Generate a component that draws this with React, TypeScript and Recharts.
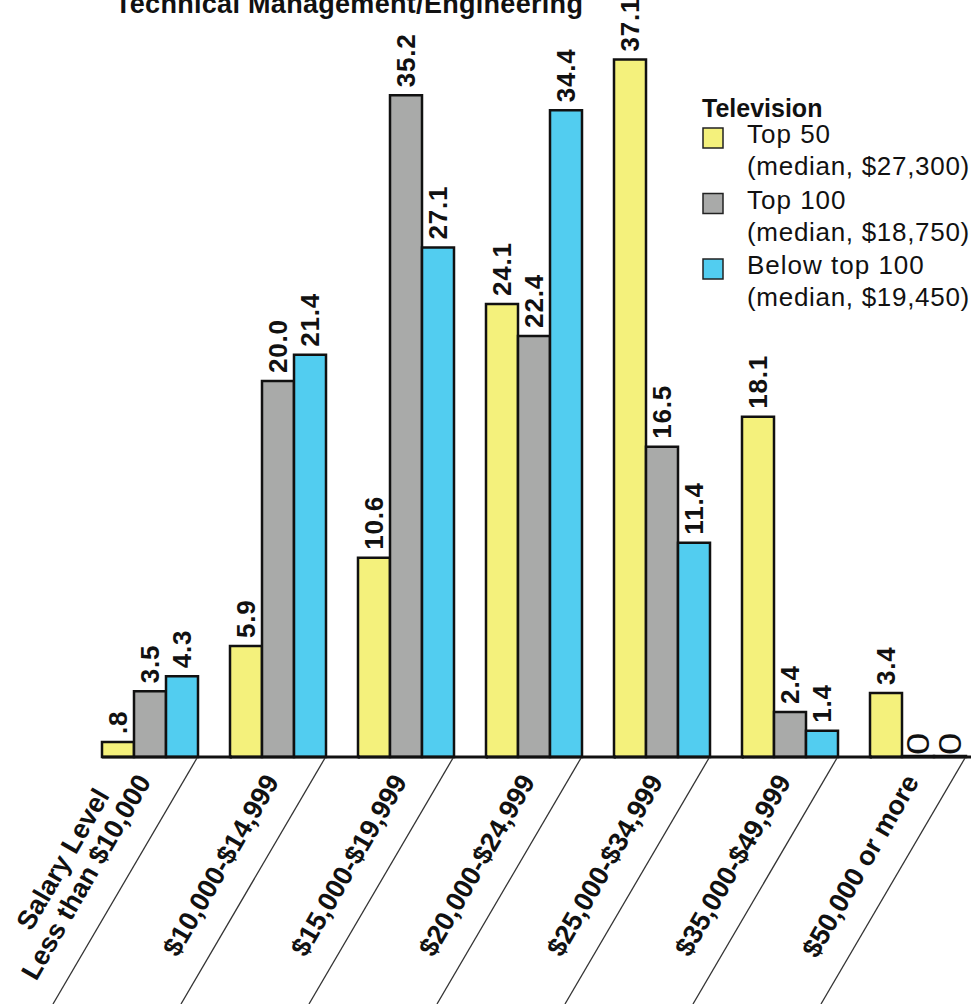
import React from "react";
import { BarChart, Bar, XAxis, YAxis, LabelList, Legend, Customized } from "recharts";

const categories = [
  "Less than $10,000",
  "$10,000-$14,999",
  "$15,000-$19,999",
  "$20,000-$24,999",
  "$25,000-$34,999",
  "$35,000-$49,999",
  "$50,000 or more",
];
const top50 = [0.8, 5.9, 10.6, 24.1, 37.1, 18.1, 3.4];
const top100 = [3.5, 20.0, 35.2, 22.4, 16.5, 2.4, 0];
const belowTop100 = [4.3, 21.4, 27.1, 34.4, 11.4, 1.4, 0];

const seriesKeys = ["top50", "top100", "below100"];
const seriesNames = ["Top 50", "Top 100", "Below top 100"];
const seriesMedians = ["(median, $27,300)", "(median, $18,750)", "(median, $19,450)"];
const seriesColors = ["#f4f17c", "#a9aaa9", "#52cdf0"];

const chartTitle = "Technical Management/Engineering";
const legendTitle = "Television";
const axisTitle = "Salary Level";

const data = categories.map((c, i) => ({
  cat: c,
  top50: top50[i],
  top100: top100[i],
  below100: belowTop100[i],
}));

const FONT = "'Liberation Sans', Arial, Helvetica, sans-serif";

const fmt = (v: number) => {
  if (v === 0) return "0";
  if (v < 1) return String(v).replace(/^0/, "");
  return v.toFixed(1);
};

const ValueLabel = (props: any) => {
  const { x, y, width, value } = props;
  const cx = Number(x) + Number(width) / 2;
  const v = Number(value);
  if (v === 0) {
    return (
      <text
        transform={`translate(${cx},${Number(y) - 1}) rotate(-90) scale(1.3,1)`}
        textAnchor="start"
        dominantBaseline="central"
        fontFamily={FONT}
        fontSize={31}
        fill="#111"
      >
        {fmt(v)}
      </text>
    );
  }
  return (
    <text
      transform={`translate(${cx},${Number(y) - 8}) rotate(-90)`}
      textAnchor="start"
      dominantBaseline="central"
      fontFamily={FONT}
      fontWeight="bold"
      fontSize={26}
      letterSpacing={0.8}
      fill="#111"
    >
      {fmt(v)}
    </text>
  );
};

const CategoryTick = (props: any) => {
  const { x, y, payload, index } = props;
  const cx = Number(x);
  const ay = Number(y);
  return (
    <g>
      <line x1={cx - 48} y1={ay} x2={cx + 82} y2={ay} stroke="#111" strokeWidth={3} />
      <line x1={cx + 47} y1={ay + 1} x2={cx + 47 - 144} y2={ay + 247} stroke="#333" strokeWidth={1.3} />
      <g transform={`translate(${cx - 6},${ay + 20}) rotate(-60)`}>
        <text
          x={0}
          y={0}
          textAnchor="end"
          dominantBaseline="central"
          fontFamily={FONT}
          fontWeight="bold"
          fontSize={27}
          fill="#111"
        >
          {payload.value}
        </text>
        {index === 0 && (
          <text
            x={-33}
            y={-29}
            textAnchor="end"
            dominantBaseline="central"
            fontFamily={FONT}
            fontWeight="bold"
            fontSize={27}
            fill="#111"
          >
            {axisTitle}
          </text>
        )}
      </g>
    </g>
  );
};

const LegendContent = (props: any) => {
  const payload: any[] = props.payload || [];
  return (
    <svg width={290} height={250} style={{ display: "block" }}>
      <text x={12} y={37} fontFamily={FONT} fontWeight="bold" fontSize={25} fill="#111">
        {legendTitle}
      </text>
      {seriesNames.map((name, i) => {
        const entry = payload.find((p: any) => p.value === name);
        const color = (entry && entry.color) || seriesColors[i];
        const top = 48 + i * 65.5;
        return (
          <g key={name}>
            <rect x={13} y={top} width={20} height={20} fill={color} stroke="#222" strokeWidth={1.5} />
            <text x={57} y={top + 15} fontFamily={FONT} fontSize={26} letterSpacing={1} fill="#111">
              {name}
            </text>
            <text x={57} y={top + 47} fontFamily={FONT} fontSize={26} letterSpacing={0.7} fill="#111">
              {seriesMedians[i]}
            </text>
          </g>
        );
      })}
    </svg>
  );
};

const Title = () => (
  <text x={115} y={13} fontFamily={FONT} fontWeight="bold" fontSize={27} letterSpacing={0.3} fill="#111">
    {chartTitle}
  </text>
);

export default function App() {
  return (
    <div
      style={{
        position: "absolute",
        left: 0,
        top: 0,
        width: 971,
        height: 1004,
        overflow: "hidden",
        background: "#fff",
      }}
    >
      <BarChart
        width={1000}
        height={1004}
        data={data}
        margin={{ top: 5, right: 18, left: 86, bottom: 0 }}
        barCategoryGap={16}
        barGap={0}
      >
        <XAxis
          dataKey="cat"
          axisLine={false}
          tickLine={false}
          tickSize={0}
          tickMargin={0}
          interval={0}
          height={247}
          tick={<CategoryTick />}
        />
        <YAxis hide domain={[0, 40]} />
        <Legend
          layout="vertical"
          align="center"
          verticalAlign="middle"
          content={<LegendContent />}
          wrapperStyle={{ left: 690, top: 80, width: 290, height: 250 }}
        />
        {seriesKeys.map((k, i) => (
          <Bar
            key={k}
            dataKey={k}
            name={seriesNames[i]}
            fill={seriesColors[i]}
            stroke="#111"
            strokeWidth={2.5}
            minPointSize={(v: any) => (Number(v) === 0 ? 1 : 0)}
            isAnimationActive={false}
          >
            <LabelList dataKey={k} content={<ValueLabel />} />
          </Bar>
        ))}
        <Customized component={<Title />} />
      </BarChart>
    </div>
  );
}
